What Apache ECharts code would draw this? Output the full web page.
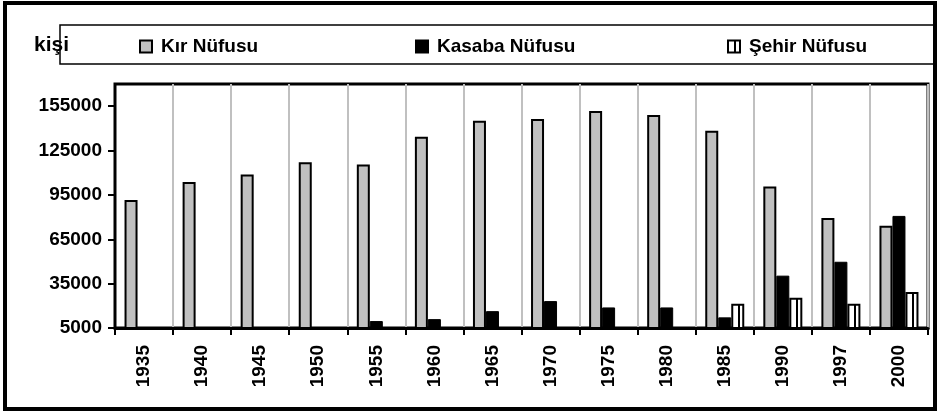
<!DOCTYPE html>
<html>
<head>
<meta charset="utf-8">
<script src="https://cdn.jsdelivr.net/npm/echarts@6/dist/echarts.min.js"></script>
<style>
html,body{margin:0;padding:0;background:#fff;}
#chart{width:940px;height:414px;}
</style>
</head>
<body>
<div id="chart"></div>
<script>
const years = ['1935','1940','1945','1950','1955','1960','1965','1970','1975','1980','1985','1990','1997','2000'];
const kirNufusu = [91600,103700,108800,117100,115500,134300,145100,146400,151800,149100,138400,100700,79400,74100];
const kasabaNufusu = [null,5600,null,5600,9700,11000,16400,23200,18900,18900,12200,40400,49800,80800];
const sehirNufusu = [null,null,null,null,null,null,null,null,null,null,21400,25400,21400,29400];
const yTicks = [5000,35000,65000,95000,125000,155000];
const seriesNames = ['Kır Nüfusu','Kasaba Nüfusu','Şehir Nüfusu'];
const unitLabel = 'kişi';

const FONT = '"Liberation Sans", Arial, sans-serif';
const chart = echarts.init(document.getElementById('chart'), null, {renderer:'canvas'});

const sehirFill = new echarts.graphic.LinearGradient(0,0,1,0,[
  {offset:0,color:'#ffffff'},{offset:0.5,color:'#ffffff'},
  {offset:0.5,color:'#000000'},{offset:0.65,color:'#000000'},
  {offset:0.65,color:'#ffffff'},{offset:1,color:'#ffffff'}
]);

function legendAt(name, left){
  return {
    data:[name], left:left, top:37, orient:'horizontal',
    itemWidth:12, itemHeight:12, itemGap:0, icon:'rect',
    textStyle:{fontFamily:FONT,fontWeight:'bold',fontSize:19,color:'#000',padding:[0,0,0,4]},
    selectedMode:false, padding:0
  };
}

const option = {
  backgroundColor:'#fff',
  animation:false,
  graphic:[
    {type:'rect',shape:{x:5,y:3,width:930,height:406},style:{fill:'none',stroke:'#000',lineWidth:4},silent:true,z:100},
    {type:'rect',shape:{x:60,y:25,width:875,height:39},style:{fill:'none',stroke:'#000',lineWidth:1.5},silent:true,z:50},
    {type:'text',left:34,top:35,style:{text:unitLabel,font:'bold 21px '+FONT,fill:'#000'},silent:true,z:40}
  ],
  legend:[legendAt(seriesNames[0],139),legendAt(seriesNames[1],415),legendAt(seriesNames[2],727)],
  grid:{left:115,right:12,top:84,bottom:86,show:true,borderColor:'#000',borderWidth:3,backgroundColor:'#fff',containLabel:false,outerBoundsMode:'none'},
  xAxis:{
    type:'category', data:years, boundaryGap:true,
    axisLine:{show:true,lineStyle:{color:'#000',width:3}},
    axisTick:{show:true,inside:false,length:7,lineStyle:{color:'#000',width:2}},
    splitLine:{show:true,lineStyle:{color:'#c0c0c0',width:2}},
    axisLabel:{rotate:90,margin:17,fontFamily:FONT,fontWeight:'bold',fontSize:19,color:'#000',interval:0}
  },
  yAxis:{
    type:'value', min:5000, max:170000, interval:30000,
    axisLine:{show:true,lineStyle:{color:'#000',width:2}},
    axisTick:{show:true,inside:false,length:7,lineStyle:{color:'#000',width:2}},
    splitLine:{show:false},
    axisLabel:{margin:13,fontFamily:FONT,fontWeight:'bold',fontSize:19,color:'#000',showMaxLabel:false,
      formatter:function(v){return yTicks.indexOf(v)>=0?String(v):'';}}
  },
  series:[
    {name:seriesNames[0],type:'bar',data:kirNufusu,barWidth:13,barGap:'0%',
     itemStyle:{color:'#c0c0c0',borderColor:'#000',borderWidth:2}},
    {name:seriesNames[1],type:'bar',data:kasabaNufusu,barWidth:13,barGap:'0%',
     itemStyle:{color:'#000',borderColor:'#000',borderWidth:1}},
    {name:seriesNames[2],type:'bar',data:sehirNufusu,barWidth:13,barGap:'0%',
     itemStyle:{color:sehirFill,borderColor:'#000',borderWidth:2}}
  ]
};
chart.setOption(option);
</script>
</body>
</html>
